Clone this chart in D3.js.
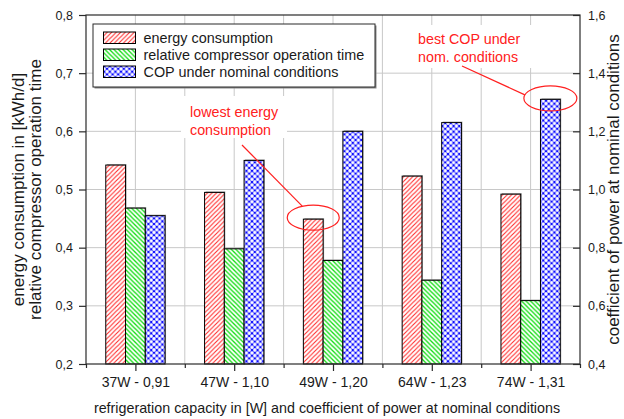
<!DOCTYPE html>
<html>
<head>
<meta charset="utf-8">
<script src="https://cdn.jsdelivr.net/npm/d3@7/dist/d3.min.js"></script>
<style>
  html, body { margin: 0; padding: 0; background: #fff; }
  svg { display: block; font-family: Arial, "Liberation Sans", sans-serif; }
</style>
</head>
<body>
<svg id="chart" width="624" height="419"></svg>
<script>
// Refrigerator comparison: energy use, compressor run time and COP per appliance
const categories = ["37W - 0,91", "47W - 1,10", "49W - 1,20", "64W - 1,23", "74W - 1,31"];
const energyConsumption = [0.542, 0.495, 0.449, 0.523, 0.492];
const operationTime = [0.468, 0.398, 0.378, 0.344, 0.309];
const copNominal = [0.91, 1.10, 1.20, 1.23, 1.31];
const seriesNames = ["energy consumption", "relative compressor operation time", "COP under nominal conditions"];
const leftTicks = [0.2, 0.3, 0.4, 0.5, 0.6, 0.7, 0.8];
const rightTicks = [0.4, 0.6, 0.8, 1.0, 1.2, 1.4, 1.6];
const leftTitle = ["energy consumption in [kWh/d]", "relative compressor operation time"];
const rightTitle = "coefficient of power at nominal conditions";
const bottomTitle = "refrigeration capacity in [W] and coefficient of power at nominal conditions";
const noteLowest = ["lowest energy", "consumption"];
const noteBest = ["best COP under", "nom. conditions"];

const svg = d3.select("#chart");
const plot = { left: 86, right: 580, top: 15, bottom: 364 };

// x runs over 0..10 with the groups sitting on the odd positions
const x = d3.scaleLinear().domain([0, 10]).range([plot.left, plot.right]);
const groupPos = categories.map((d, i) => 2 * i + 1);
const inner = d3.scaleBand().domain(seriesNames).range([-0.6, 0.6]);
const yL = d3.scaleLinear().domain([0.2, 0.8]).range([plot.bottom, plot.top]);
const yR = d3.scaleLinear().domain([0.4, 1.6]).range([plot.bottom, plot.top]);
const fmt = d => d3.format(".1f")(d).replace(".", ",");

// fill patterns
const defs = svg.append("defs");
const pRed = defs.append("pattern").attr("id", "hatchRed").attr("patternUnits", "userSpaceOnUse")
  .attr("width", 4.5).attr("height", 4.5);
pRed.append("rect").attr("width", 4.5).attr("height", 4.5).attr("fill", "#fff");
pRed.append("path").attr("d", "M0,4.5 L4.5,0 M-1,1 L1,-1 M3.5,5.5 L5.5,3.5")
  .attr("stroke", "#ff2a2a").attr("stroke-width", 1.1);

const pGreen = defs.append("pattern").attr("id", "hatchGreen").attr("patternUnits", "userSpaceOnUse")
  .attr("width", 4.5).attr("height", 4.5);
pGreen.append("rect").attr("width", 4.5).attr("height", 4.5).attr("fill", "#fff");
pGreen.append("path").attr("d", "M0,0 L4.5,4.5 M-1,3.5 L1,5.5 M3.5,-1 L5.5,1")
  .attr("stroke", "#11dd11").attr("stroke-width", 1.3);

const pBlue = defs.append("pattern").attr("id", "crossBlue").attr("patternUnits", "userSpaceOnUse")
  .attr("width", 5.6).attr("height", 5.6);
pBlue.append("rect").attr("width", 5.6).attr("height", 5.6).attr("fill", "#0a0aff");
[[0, 0], [5.6, 0], [0, 5.6], [5.6, 5.6], [2.8, 2.8]].forEach(([cx, cy]) =>
  pBlue.append("circle").attr("cx", cx).attr("cy", cy).attr("r", 1.75).attr("fill", "#fff"));

const fills = ["url(#hatchRed)", "url(#hatchGreen)", "url(#crossBlue)"];

// grid
const grid = svg.append("g").attr("stroke", "#c8c8c8").attr("stroke-width", 1);
d3.range(1, 10).forEach(v => grid.append("line")
  .attr("x1", x(v)).attr("x2", x(v)).attr("y1", plot.top).attr("y2", plot.bottom));
leftTicks.slice(1, -1).forEach(v => grid.append("line")
  .attr("x1", plot.left).attr("x2", plot.right).attr("y1", yL(v)).attr("y2", yL(v)));

// bars
const rows = categories.map((c, i) => ({
  pos: groupPos[i],
  vals: [
    { s: 0, y: yL(energyConsumption[i]) },
    { s: 1, y: yL(operationTime[i]) },
    { s: 2, y: yR(copNominal[i]) }
  ]
}));
const bw = x(inner.bandwidth()) - x(0);
const groups = svg.append("g").selectAll("g").data(rows).join("g");
groups.selectAll("rect.shadow").data(d => d.vals.map(v => ({ ...v, pos: d.pos }))).join("rect")
  .attr("class", "shadow")
  .attr("x", d => x(d.pos + inner(seriesNames[d.s])) + 1)
  .attr("y", d => d.y - 1)
  .attr("width", bw).attr("height", d => plot.bottom - d.y)
  .attr("fill", "#a0a0a0");
groups.selectAll("rect.bar").data(d => d.vals.map(v => ({ ...v, pos: d.pos }))).join("rect")
  .attr("class", "bar")
  .attr("x", d => x(d.pos + inner(seriesNames[d.s])))
  .attr("y", d => d.y)
  .attr("width", bw).attr("height", d => plot.bottom - d.y)
  .attr("fill", d => fills[d.s])
  .attr("stroke", "#000").attr("stroke-width", 1);

// frame
svg.append("rect").attr("x", plot.left).attr("y", plot.top)
  .attr("width", plot.right - plot.left).attr("height", plot.bottom - plot.top)
  .attr("fill", "none").attr("stroke", "#2a2a2a").attr("stroke-width", 1.2);

// axes
const axL = svg.append("g").attr("transform", `translate(${plot.left},0)`)
  .call(d3.axisLeft(yL).tickValues(leftTicks).tickFormat(fmt).tickSize(7).tickPadding(6));
const axR = svg.append("g").attr("transform", `translate(${plot.right},0)`)
  .call(d3.axisRight(yR).tickValues(rightTicks).tickFormat(fmt).tickSize(-7).tickPadding(8));
const axB = svg.append("g").attr("transform", `translate(0,${plot.bottom})`)
  .call(d3.axisBottom(x).tickValues(d3.range(0, 11))
    .tickFormat(v => v % 2 === 1 ? categories[(v - 1) / 2] : "")
    .tickSize(7).tickPadding(6));
axB.selectAll(".tick line").attr("y2", v => v % 2 === 1 ? 7 : 4);
[axL, axR, axB].forEach(a => {
  a.select(".domain").remove();
  a.selectAll(".tick line").attr("stroke", "#2a2a2a").attr("stroke-width", 1.2);
  a.selectAll("text").attr("fill", "#1a1a1a").style("font-family", "Arial, 'Liberation Sans', sans-serif");
});
axL.selectAll("text").style("font-size", "12.5px");
axR.selectAll("text").style("font-size", "12.5px");
axB.selectAll("text").style("font-size", "14px");

// axis titles
const titleStyle = s => s.attr("fill", "#1a1a1a").attr("text-anchor", "middle");
leftTitle.forEach((t, i) => svg.append("text")
  .attr("transform", `translate(${24 + i * 17},${(plot.top + plot.bottom) / 2}) rotate(-90)`)
  .text(t).call(titleStyle).style("font-size", "17px"));
svg.append("text")
  .attr("transform", `translate(619,${(plot.top + plot.bottom) / 2}) rotate(-90)`)
  .text(rightTitle).call(titleStyle).style("font-size", "17px");
svg.append("text").attr("x", 327).attr("y", 413).text(bottomTitle).call(titleStyle)
  .style("font-size", "14.3px");

// legend
const lg = svg.append("g").attr("transform", "translate(93,24)");
lg.append("rect").attr("x", 1.5).attr("y", 1.5).attr("width", 282).attr("height", 63).attr("fill", "#888");
lg.append("rect").attr("width", 282).attr("height", 63).attr("fill", "#fff")
  .attr("stroke", "#2a2a2a").attr("stroke-width", 1);
seriesNames.forEach((s, i) => {
  const ry = 8 + i * 17;
  lg.append("rect").attr("x", 10.5).attr("y", ry).attr("width", 32).attr("height", 11.5)
    .attr("fill", fills[i]).attr("stroke", "#000").attr("stroke-width", 1);
  lg.append("text").attr("x", 50.5).attr("y", ry + 10.5).text(s)
    .attr("fill", "#1a1a1a").style("font-size", "14.4px");
});

// annotations
const red = "#ff2020";
function note(lines, bx, by, bwid, bht, tx, ty) {
  svg.append("rect").attr("x", bx).attr("y", by).attr("width", bwid).attr("height", bht).attr("fill", "#fff");
  lines.forEach((t, i) => svg.append("text").attr("x", tx).attr("y", ty + i * 18.5).text(t)
    .attr("fill", red).style("font-size", "14.3px"));
}
note(noteLowest, 181, 96, 106, 42, 190, 116.5);
note(noteBest, 410, 25, 122, 43, 418, 43.5);

const lowX = x(groupPos[2] + inner(seriesNames[0])) + bw / 2;
const lowY = yL(energyConsumption[2]) - 1.5;
const bestX = x(groupPos[4] + inner(seriesNames[2])) + bw / 2;
const bestY = yR(copNominal[4]) - 1;
const ell = svg.append("g").attr("fill", "none").attr("stroke", red).attr("stroke-width", 1.2);
ell.append("ellipse").attr("cx", lowX).attr("cy", lowY).attr("rx", 26).attr("ry", 12.5);
ell.append("ellipse").attr("cx", bestX).attr("cy", bestY).attr("rx", 26.5).attr("ry", 12.5);
ell.append("line").attr("x1", 242).attr("y1", 145).attr("x2", lowX - 11).attr("y2", lowY - 11.5);
ell.append("line").attr("x1", 462).attr("y1", 66).attr("x2", bestX - 25.5).attr("y2", bestY - 3.5);
</script>
</body>
</html>
